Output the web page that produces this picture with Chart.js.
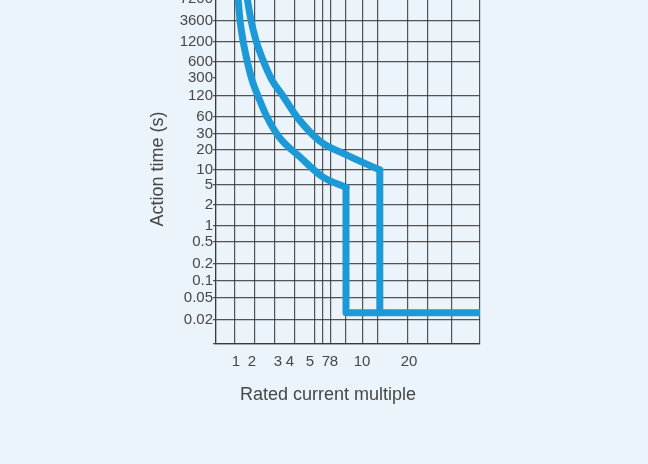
<!DOCTYPE html>
<html>
<head>
<meta charset="utf-8">
<script src="https://cdn.jsdelivr.net/npm/chart.js@4/dist/chart.umd.min.js"></script>
<style>
  html, body { margin: 0; padding: 0; width: 648px; height: 464px; overflow: hidden; background: #ebf3fb; }
  #wrap { position: absolute; left: 0; top: -40px; width: 648px; height: 504px; }
</style>
</head>
<body>
<div id="wrap"><canvas id="trip-chart"></canvas></div>
<script>
// rated current multiple at each vertical grid line (left edge to right edge)
var xGridValues = [0, 1, 2, 3, 4, 5, 7, 8, 9, 10, 15, 20, 30, 40, 50];
var xTickLabels = ['1', '2', '3', '4', '5', '7', '8', '10', '20'];
// action time (s) at each horizontal grid line (bottom edge to top edge)
var yGridValues = [0.01, 0.02, 0.05, 0.1, 0.2, 0.5, 1, 2, 5, 10, 20, 30, 60, 120, 300, 600, 1200, 3600, 7200, 14400];
var yTickLabels = ['0.02', '0.05', '0.1', '0.2', '0.5', '1', '2', '5', '10', '20', '30', '60', '120', '300', '600', '1200', '3600', '7200'];

// slow (thermal) band edge
var slowMultiple = [1.6, 1.8, 2.05, 2.4, 2.85, 3.4, 4.1, 6.25, 9.06, 15.3];
var slowTime = [9000, 3700, 1300, 640, 270, 120, 60, 25, 16.8, 10];
// fast band edge
var fastMultiple = [1.15, 1.25, 1.4, 1.6, 1.85, 2.15, 2.6, 3.25, 4.25, 7.0, 9.0];
var fastTime = [9000, 3700, 1300, 640, 270, 120, 60, 27, 15.7, 7.2, 4.5];
// instantaneous trip level
var instantTime = 0.027;

// the printed grid is not evenly spaced: gaps between neighbouring lines
var xGap = [19, 20, 20, 20, 20, 8, 8, 15, 17, 15, 30, 20, 24, 28];
var yGap = [24, 22, 17, 17, 22, 16, 21, 20, 15, 20, 16, 17, 21, 18, 16, 20, 21, 22, 5];
// the printed x labels sit a little off their lines
var xLabelNudge = [1, -3, 3, -5, -5, 3, 3, -1, 1];

function cumulate(gaps) {
  var out = [0];
  gaps.forEach(function(g) { out.push(out[out.length - 1] + g); });
  return out;
}
var xGridPos = cumulate(xGap);
var yGridPos = cumulate(yGap);

// value -> axis position, piecewise between grid lines
function toAxis(v, vals, pos, useLog) {
  var f = useLog ? Math.log : function(a) { return a; };
  var i = 0;
  while (i < vals.length - 2 && v > vals[i + 1]) i++;
  var t = (f(v) - f(vals[i])) / (f(vals[i + 1]) - f(vals[i]));
  return pos[i] + t * (pos[i + 1] - pos[i]);
}
function pt(m, s) {
  return { x: toAxis(m, xGridValues, xGridPos, false), y: toAxis(s, yGridValues, yGridPos, true) };
}
var xLabelPos = xTickLabels.map(function(l, i) {
  return toAxis(Number(l), xGridValues, xGridPos, false) + xLabelNudge[i];
});

var blue = '#1c9ad7';
var gridColor = 'rgba(55,55,55,0.85)';
var textColor = '#474747';
var fontFamily = '"Liberation Sans", Arial, sans-serif';
Chart.defaults.font.family = fontFamily;

function lineSet(points, curved) {
  return {
    data: points,
    borderColor: blue,
    borderWidth: 7,
    borderCapStyle: 'round',
    borderJoinStyle: 'round',
    pointRadius: 0,
    fill: false,
    cubicInterpolationMode: curved ? 'monotone' : 'default',
    tension: 0
  };
}

var xTitle = {
  id: 'xTitle',
  afterDraw: function(chart) {
    var a = chart.chartArea, ctx = chart.ctx;
    ctx.save();
    ctx.font = '18px ' + fontFamily;
    ctx.fillStyle = textColor;
    ctx.textAlign = 'center';
    ctx.textBaseline = 'middle';
    ctx.fillText('Rated current multiple', a.left + 112, a.bottom + 51);
    ctx.restore();
  }
};

new Chart(document.getElementById('trip-chart'), {
  type: 'line',
  data: {
    datasets: [
      lineSet(slowMultiple.map(function(m, i) { return pt(m, slowTime[i]); }), true),
      lineSet([pt(slowMultiple[slowMultiple.length - 1], slowTime[slowTime.length - 1]),
               pt(slowMultiple[slowMultiple.length - 1], instantTime)], false),
      lineSet(fastMultiple.map(function(m, i) { return pt(m, fastTime[i]); }), true),
      lineSet([pt(fastMultiple[fastMultiple.length - 1], fastTime[fastTime.length - 1]),
               pt(fastMultiple[fastMultiple.length - 1], instantTime),
               pt(xGridValues[xGridValues.length - 1], instantTime)], false)
    ]
  },
  options: {
    responsive: true,
    maintainAspectRatio: false,
    animation: false,
    layout: { padding: { left: 143, right: 168, top: 34, bottom: 54 } },
    plugins: { legend: { display: false }, tooltip: { enabled: false } },
    scales: {
      x: {
        type: 'linear',
        min: 0,
        max: xGridPos[xGridPos.length - 1],
        z: 1,
        afterBuildTicks: function(s) { s.ticks = xGridPos.map(function(p) { return { value: p }; }); },
        afterFit: function(s) { s.height = 0; },
        ticks: { display: false },
        grid: { color: gridColor, lineWidth: 1.2, drawTicks: false },
        border: { color: gridColor, width: 1.2 }
      },
      xl: {
        type: 'linear',
        position: 'bottom',
        min: 0,
        max: xGridPos[xGridPos.length - 1],
        afterBuildTicks: function(s) { s.ticks = xLabelPos.map(function(p) { return { value: p }; }); },
        afterFit: function(s) { s.height = 66; },
        ticks: {
          autoSkip: false,
          maxRotation: 0,
          padding: 9,
          color: textColor,
          font: { size: 15 },
          callback: function(v, i) { return xTickLabels[i]; }
        },
        grid: { display: false, drawTicks: false },
        border: { display: false }
      },
      y: {
        type: 'linear',
        min: 0,
        max: yGridPos[yGridPos.length - 1],
        z: 1,
        afterBuildTicks: function(s) { s.ticks = yGridPos.map(function(p) { return { value: p }; }); },
        afterFit: function(s) { s.width = 73; },
        ticks: {
          autoSkip: false,
          padding: 0,
          color: textColor,
          font: { size: 15 },
          callback: function(v, i) {
            var lab = String(yGridValues[i]);
            return yTickLabels.indexOf(lab) >= 0 ? lab : '';
          }
        },
        grid: {
          color: function(ctx) { return yGridValues[ctx.index] === 300 ? 'rgba(0,0,0,0)' : gridColor; },
          tickColor: gridColor,
          tickLength: 3,
          lineWidth: 1.2
        },
        border: { color: gridColor, width: 1.2 },
        title: { display: true, text: 'Action time (s)', color: textColor, font: { size: 18 }, padding: { top: 4, bottom: 4 } }
      }
    }
  },
  plugins: [xTitle]
});
</script>
</body>
</html>
